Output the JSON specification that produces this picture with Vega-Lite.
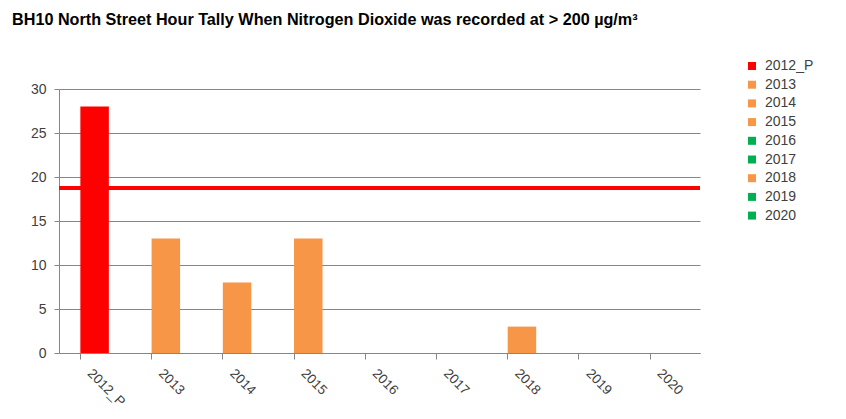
{
  "$schema": "https://vega.github.io/schema/vega-lite/v6.json",
  "autosize": "none",
  "width": 641,
  "height": 264,
  "padding": {"left": 59, "top": 89, "right": 146, "bottom": 66},
  "background": "white",
  "title": {
    "text": "BH10 North Street Hour Tally When Nitrogen Dioxide was recorded at > 200 µg/m³",
    "anchor": "start",
    "frame": "group",
    "dx": -47,
    "offset": 31,
    "font": "Liberation Sans",
    "fontSize": 16.2,
    "fontWeight": "bold",
    "color": "#000000"
  },
  "data": {
    "values": [
      {"year": "2012_P", "hours": 28},
      {"year": "2013", "hours": 13},
      {"year": "2014", "hours": 8},
      {"year": "2015", "hours": 13},
      {"year": "2016", "hours": 0},
      {"year": "2017", "hours": 0},
      {"year": "2018", "hours": 3},
      {"year": "2019", "hours": 0},
      {"year": "2020", "hours": 0}
    ]
  },
  "layer": [
    {
      "mark": {"type": "bar"},
      "encoding": {
        "x": {
          "field": "year",
          "type": "nominal",
          "sort": null,
          "scale": {"paddingInner": 0.6, "paddingOuter": 0.3},
          "axis": {
            "title": null,
            "labelAngle": 45,
            "labelPadding": 7,
            "labelFont": "Liberation Sans",
            "labelFontSize": 13.5,
            "labelColor": "#404040",
            "bandPosition": 0,
            "tickSize": 6,
            "tickColor": "#868686",
            "domainColor": "#868686",
            "grid": false
          }
        },
        "y": {
          "field": "hours",
          "type": "quantitative",
          "scale": {"domain": [0, 30]},
          "axis": {
            "title": null,
            "values": [0, 5, 10, 15, 20, 25, 30],
            "labelFont": "Liberation Sans",
            "labelFontSize": 14,
            "labelColor": "#404040",
            "labelPadding": 8,
            "tickSize": 5,
            "tickColor": "#868686",
            "domainColor": "#868686",
            "gridColor": "#868686",
            "gridOpacity": 1
          }
        },
        "color": {
          "field": "year",
          "type": "nominal",
          "sort": null,
          "scale": {
            "domain": ["2012_P", "2013", "2014", "2015", "2016", "2017", "2018", "2019", "2020"],
            "range": ["#ff0000", "#f79646", "#f79646", "#f79646", "#00b050", "#00b050", "#f79646", "#00b050", "#00b050"]
          },
          "legend": {
            "title": null,
            "orient": "none",
            "legendX": 686,
            "legendY": -30,
            "symbolType": "square",
            "symbolSize": 64,
            "symbolStrokeWidth": 0,
            "labelFont": "Liberation Sans",
            "labelFontSize": 14,
            "labelColor": "#404040",
            "labelOffset": 6,
            "rowPadding": 4.7
          }
        }
      }
    },
    {
      "mark": {"type": "rule", "color": "#ff0000", "strokeWidth": 3},
      "encoding": {"y": {"datum": 18.75}}
    }
  ],
  "config": {"view": {"stroke": null}}
}
